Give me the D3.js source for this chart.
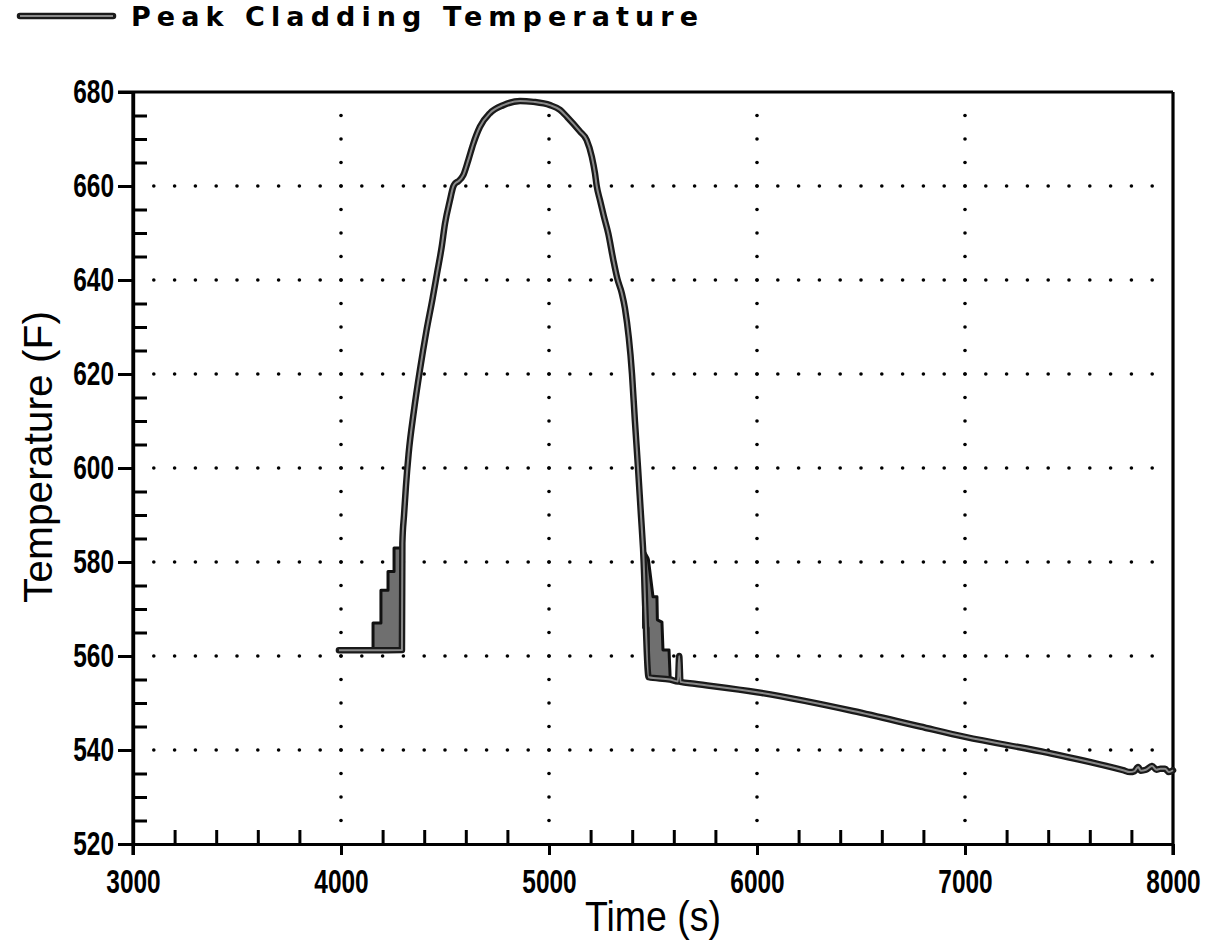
<!DOCTYPE html>
<html>
<head>
<meta charset="utf-8">
<script src="https://cdn.jsdelivr.net/npm/d3@7.9.0/dist/d3.min.js"></script>
<style>
  body { margin: 0; background: #fff; }
  svg { display: block; }
  .tick text { font-family: "Liberation Sans", Arial, sans-serif; font-size: 33px; font-weight: bold; fill: #000; }
</style>
</head>
<body>
<svg id="chart" width="1215" height="944"></svg>
<script>
// main curve: time (s) and peak cladding temperature (F)
const timeS = [3990, 4150, 4293, 4295, 4303, 4312, 4325, 4350, 4380, 4410, 4440, 4462, 4484, 4500, 4524,
  4540, 4550, 4564, 4588, 4612, 4636, 4668, 4716, 4780, 4861, 4925, 5005, 5053, 5087, 5149, 5181,
  5206, 5221, 5229, 5245, 5264, 5285, 5309, 5329, 5350, 5365, 5399, 5413, 5428, 5442, 5452, 5479,
  5582, 5620, 5626, 5632, 5700, 6000, 6462, 6784, 7000, 7399, 7760, 7793, 7815, 7832, 7845, 7870,
  7899, 7920, 7940, 7962, 7980, 8000];
const tempF = [561.2, 561.2, 561.3, 584, 590, 596, 603, 612, 621, 629, 636, 641.5, 647, 652, 657,
  659.9, 660.6, 661, 662.3, 665.5, 669, 672.6, 675.5, 677.2, 678.1, 677.9, 677.2, 676.2, 674.7, 671.6, 669.8,
  666.2, 662.7, 660.1, 657, 653.5, 649.9, 644.3, 640.2, 637.2, 634, 620, 610, 600, 590, 583, 555.5,
  555, 554.6, 560, 554.5, 554.1, 552.3, 548.3, 545, 542.8, 539.4, 535.7, 535.3, 535.5, 536.4, 535.6, 535.8,
  536.6, 535.8, 536, 536, 535.3, 535.7];

// oscillating (filled-looking) stretches of the trace
const band1Time = [4154, 4192, 4226, 4255, 4293];
const band1Hi = [567, 574, 578, 583, 583];
const band1Lo = [561, 561, 561, 561, 561];

const band2Time = [5452, 5455, 5476, 5478, 5500, 5519, 5521, 5543, 5548, 5577, 5582];
const band2Hi = [583, 582.5, 580.8, 580.5, 572.6, 572.6, 567.7, 567.2, 561.3, 561.3, 556];
const band2Lo = [583, 566, 566, 555.6, 555.5, 555.4, 555.4, 555.3, 555.2, 555.1, 555];

const xMajor = [3000, 4000, 5000, 6000, 7000, 8000];
const yMajor = [520, 540, 560, 580, 600, 620, 640, 660, 680];

const svg = d3.select('#chart');
const mLeft = 133, mRight = 1173, mTop = 92, mBottom = 844;

const x = d3.scaleLinear().domain([3000, 8000]).range([mLeft, mRight]);
const y = d3.scaleLinear().domain([520, 680]).range([mBottom, mTop]);

// --- dotted grid (dots every 100 s / 5 F) ---
const grid = svg.append('g');
const dotTimes = d3.range(3100, 8000, 100);
const dotTemps = d3.range(525, 680, 5);
yMajor.slice(1, -1).forEach(t => {
  grid.selectAll(null).data(dotTimes).enter().append('circle')
    .attr('cx', d => x(d)).attr('cy', y(t)).attr('r', 1.8).attr('fill', '#000');
});
xMajor.slice(1, -1).forEach(s => {
  grid.selectAll(null).data(dotTemps).enter().append('circle')
    .attr('cx', x(s)).attr('cy', d => y(d)).attr('r', 1.8).attr('fill', '#000');
});

// --- axes ---
const minorX = d3.range(3200, 8000, 200).filter(d => d % 1000 !== 0);
const minorY = d3.range(525, 680, 5).filter(d => d % 20 !== 0);

const xAxis = svg.append('g').attr('transform', `translate(0,${mBottom})`)
  .call(d3.axisBottom(x).tickValues(xMajor).tickFormat(d3.format('d')).tickSize(11).tickSizeOuter(0).tickPadding(15));
svg.append('g').attr('transform', `translate(0,${mBottom})`)
  .call(d3.axisBottom(x).tickValues(minorX).tickFormat('').tickSize(-14).tickSizeOuter(0));

const yAxis = svg.append('g').attr('transform', `translate(${mLeft},0)`)
  .call(d3.axisLeft(y).tickValues(yMajor).tickSize(15).tickSizeOuter(0).tickPadding(4));
svg.append('g').attr('transform', `translate(${mLeft},0)`)
  .call(d3.axisLeft(y).tickValues(minorY).tickFormat('').tickSize(-14).tickSizeOuter(0));

// narrow look for the tick numbers
svg.selectAll('.tick text').filter(function () { return this.textContent.length > 0; })
  .attr('textLength', function () { return this.textContent.length * 13.6; })
  .attr('lengthAdjust', 'spacingAndGlyphs');

svg.selectAll('.domain, .tick line').attr('stroke', '#000').attr('stroke-width', 3);
svg.selectAll('.domain').attr('stroke-width', 3.2);

// frame: top and right, plus axis overshoot
svg.append('line').attr('x1', mLeft - 15).attr('x2', mRight).attr('y1', mTop).attr('y2', mTop)
  .attr('stroke', '#000').attr('stroke-width', 3.2);
svg.append('line').attr('x1', mRight).attr('x2', mRight).attr('y1', mTop).attr('y2', mBottom + 11)
  .attr('stroke', '#000').attr('stroke-width', 3.2);
svg.append('line').attr('x1', mLeft).attr('x2', mLeft).attr('y1', mTop).attr('y2', mBottom + 11)
  .attr('stroke', '#000').attr('stroke-width', 3.2);

// --- axis titles ---
svg.append('text').attr('x', (mLeft + mRight) / 2).attr('y', 931)
  .attr('text-anchor', 'middle')
  .attr('textLength', 136).attr('lengthAdjust', 'spacingAndGlyphs')
  .style('font-family', '"Liberation Sans", Arial, sans-serif').style('font-size', '42px')
  .text('Time (s)');
svg.append('text').attr('transform', 'translate(52,457) rotate(-90)')
  .attr('text-anchor', 'middle')
  .attr('textLength', 292).attr('lengthAdjust', 'spacingAndGlyphs')
  .style('font-family', '"Liberation Sans", Arial, sans-serif').style('font-size', '41px')
  .text('Temperature (F)');

// --- data ---
const plot = svg.append('g');
const area = d3.area().x(d => x(d[0])).y0(d => y(d[1])).y1(d => y(d[2]));
const b1 = band1Time.map((t, i) => [t, band1Lo[i], band1Hi[i]]);
const b2 = band2Time.map((t, i) => [t, band2Lo[i], band2Hi[i]]);
plot.append('path').datum(b1).attr('d', area.curve(d3.curveStepAfter))
  .attr('fill', '#6f6f6f').attr('stroke', '#111').attr('stroke-width', 3).attr('stroke-linejoin', 'round');
plot.append('path').datum(b2).attr('d', area.curve(d3.curveLinear))
  .attr('fill', '#6f6f6f').attr('stroke', '#111').attr('stroke-width', 3).attr('stroke-linejoin', 'round');

const pts = timeS.map((t, i) => [t, tempF[i]]);
const line = d3.line().x(d => x(d[0])).y(d => y(d[1])).curve(d3.curveMonotoneX);
plot.append('path').datum(pts).attr('d', line)
  .attr('fill', 'none').attr('stroke', '#1a1a1a').attr('stroke-width', 6.5)
  .attr('stroke-linejoin', 'round').attr('stroke-linecap', 'round');
plot.append('path').datum(pts).attr('d', line)
  .attr('fill', 'none').attr('stroke', '#8a8a8a').attr('stroke-width', 2)
  .attr('stroke-linejoin', 'round');

// --- legend ---
svg.append('line').attr('x1', 20).attr('x2', 113).attr('y1', 16).attr('y2', 16)
  .attr('stroke', '#1a1a1a').attr('stroke-width', 6.5).attr('stroke-linecap', 'round');
svg.append('line').attr('x1', 20).attr('x2', 113).attr('y1', 16).attr('y2', 16)
  .attr('stroke', '#8a8a8a').attr('stroke-width', 2);
svg.append('text').attr('x', 131).attr('y', 26)
  .attr('textLength', 567).attr('lengthAdjust', 'spacing')
  .style('font-family', '"DejaVu Sans", sans-serif').style('font-size', '27px').style('font-weight', 'bold')
  .text('Peak Cladding Temperature');
</script>
</body>
</html>
